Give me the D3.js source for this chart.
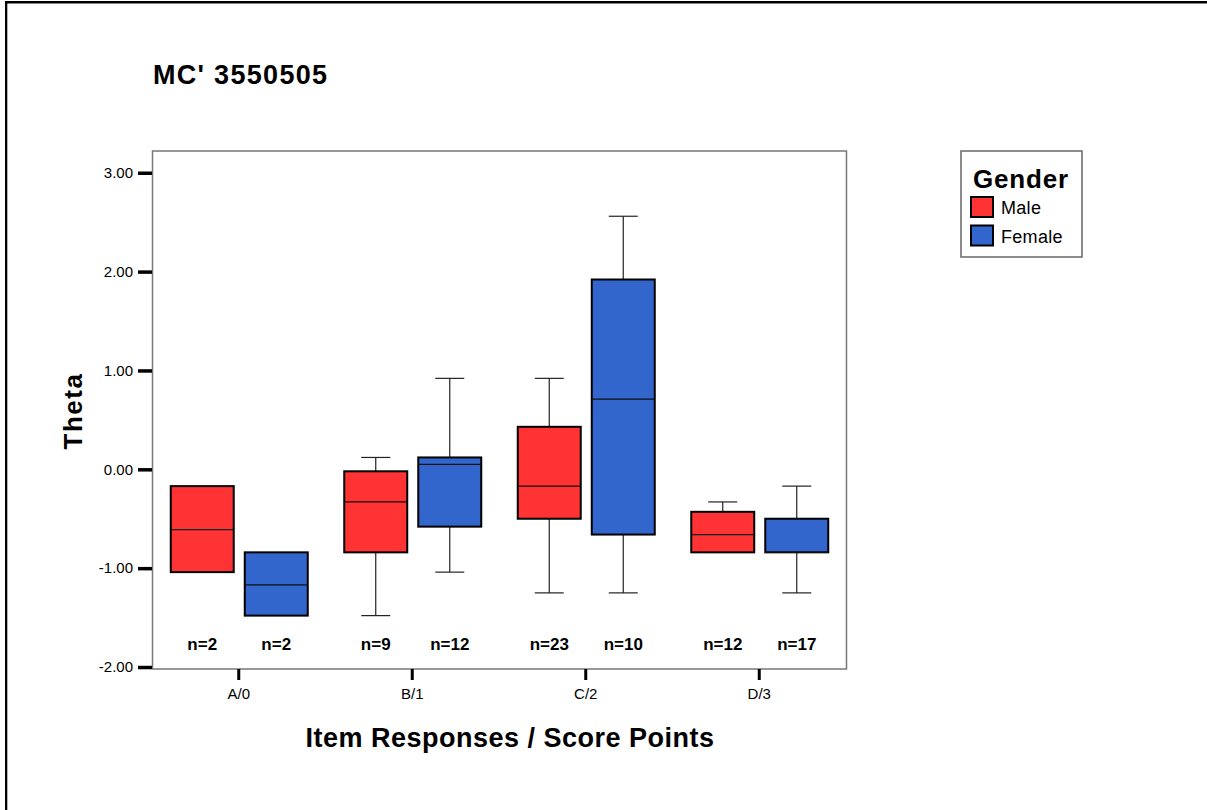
<!DOCTYPE html>
<html>
<head>
<meta charset="utf-8">
<script src="https://cdn.jsdelivr.net/npm/d3@7"></script>
<style>
  body { margin: 0; background: #fff; }
  text { font-family: "Liberation Sans", Arial, sans-serif; }
</style>
</head>
<body>
<svg id="chart"></svg>
<script>
// categories and groups
var categories = ["A/0", "B/1", "C/2", "D/3"];
var genders = ["Male", "Female"];
var yTicks = [-2, -1, 0, 1, 2, 3];

// box stats (Theta)
var maleMin    = [-1.04, -1.48, -1.25, -0.84];
var maleQ1     = [-1.04, -0.84, -0.50, -0.84];
var maleMedian = [-0.61, -0.33, -0.17, -0.66];
var maleQ3     = [-0.17, -0.02,  0.43, -0.43];
var maleMax    = [-0.17,  0.12,  0.92, -0.33];
var maleN      = [2, 9, 23, 12];

var femaleMin    = [-1.48, -1.04, -1.25, -1.25];
var femaleQ1     = [-1.48, -0.58, -0.66, -0.84];
var femaleMedian = [-1.17,  0.05,  0.71, -0.84];
var femaleQ3     = [-0.84,  0.12,  1.92, -0.50];
var femaleMax    = [-0.84,  0.92,  2.56, -0.17];
var femaleN      = [2, 12, 10, 17];

var colors = ["#ff3333", "#3366cc"];

var dim = { width: 1207, height: 810 };
var plot = { left: 152, right: 846, top: 151, bottom: 669 };

// build rows for d3
var data = [];
categories.forEach(function(c, i) {
    data.push({cat: c, gender: "Male", min: maleMin[i], q1: maleQ1[i], med: maleMedian[i], q3: maleQ3[i], max: maleMax[i], n: maleN[i]});
    data.push({cat: c, gender: "Female", min: femaleMin[i], q1: femaleQ1[i], med: femaleMedian[i], q3: femaleQ3[i], max: femaleMax[i], n: femaleN[i]});
});

var svg = d3.select("#chart")
    .attr("width", dim.width)
    .attr("height", dim.height);

// outer frame (top and left edges only)
svg.append("rect").attr("x", 5).attr("y", 1).attr("width", dim.width - 5).attr("height", 2.5).attr("fill", "#000");
svg.append("rect").attr("x", 5).attr("y", 1).attr("width", 2.3).attr("height", dim.height).attr("fill", "#000");

var yScale = d3.scaleLinear()
    .domain([-2.02, 3.22])
    .range([plot.bottom, plot.top]);

var xScale = d3.scaleBand()
    .domain(categories)
    .range([plot.left, plot.right]);

var gScale = d3.scaleBand()
    .domain(genders)
    .range([-68, 69])
    .paddingInner(0.149);

var colorScale = d3.scaleOrdinal()
    .domain(genders)
    .range(colors);

var bw = gScale.bandwidth();
var cx = d => xScale(d.cat) + xScale.bandwidth() / 2 + gScale(d.gender) + bw / 2;

// plot border
svg.append("rect")
    .attr("x", plot.left + 0.5)
    .attr("y", plot.top)
    .attr("width", plot.right - plot.left)
    .attr("height", plot.bottom - plot.top)
    .attr("fill", "none")
    .attr("stroke", "#777")
    .attr("stroke-width", 1.5);

// y axis
var yAxis = svg.append("g")
    .attr("transform", "translate(" + plot.left + ",0)")
    .call(d3.axisLeft(yScale).tickValues(yTicks).tickSize(14).tickPadding(5).tickFormat(d => d.toFixed(2)));
yAxis.select(".domain").remove();
yAxis.selectAll(".tick line").attr("stroke", "#000").attr("stroke-width", 3.5);
yAxis.selectAll(".tick text").attr("font-size", 15).attr("fill", "#000")
    .style("font-family", "'Liberation Sans', Arial, sans-serif");

// x axis
var xAxis = svg.append("g")
    .attr("transform", "translate(0," + plot.bottom + ")")
    .call(d3.axisBottom(xScale).tickSize(11).tickPadding(8));
xAxis.select(".domain").remove();
xAxis.selectAll(".tick line").attr("stroke", "#000").attr("stroke-width", 3);
xAxis.selectAll(".tick text").attr("font-size", 15).attr("fill", "#000")
    .style("font-family", "'Liberation Sans', Arial, sans-serif");

// whiskers
var boxes = svg.append("g").selectAll("g.box")
    .data(data).enter()
    .append("g").attr("class", "box");

boxes.filter(d => d.max > d.q3).append("line")
    .attr("x1", cx).attr("x2", cx)
    .attr("y1", d => yScale(d.q3)).attr("y2", d => yScale(d.max))
    .attr("stroke", "#222").attr("stroke-width", 1.2);
boxes.filter(d => d.max > d.q3).append("line")
    .attr("x1", d => cx(d) - 14.5).attr("x2", d => cx(d) + 14.5)
    .attr("y1", d => yScale(d.max)).attr("y2", d => yScale(d.max))
    .attr("stroke", "#222").attr("stroke-width", 1.2);
boxes.filter(d => d.min < d.q1).append("line")
    .attr("x1", cx).attr("x2", cx)
    .attr("y1", d => yScale(d.q1)).attr("y2", d => yScale(d.min))
    .attr("stroke", "#222").attr("stroke-width", 1.2);
boxes.filter(d => d.min < d.q1).append("line")
    .attr("x1", d => cx(d) - 14.5).attr("x2", d => cx(d) + 14.5)
    .attr("y1", d => yScale(d.min)).attr("y2", d => yScale(d.min))
    .attr("stroke", "#222").attr("stroke-width", 1.2);

// boxes
boxes.append("rect")
    .attr("x", d => cx(d) - bw / 2)
    .attr("y", d => yScale(d.q3))
    .attr("width", bw)
    .attr("height", d => yScale(d.q1) - yScale(d.q3))
    .attr("fill", d => colorScale(d.gender))
    .attr("stroke", "#000")
    .attr("stroke-width", 2);

// medians
boxes.append("line")
    .attr("x1", d => cx(d) - bw / 2).attr("x2", d => cx(d) + bw / 2)
    .attr("y1", d => yScale(d.med)).attr("y2", d => yScale(d.med))
    .attr("stroke", "#111").attr("stroke-width", 1.3);

// n labels
svg.append("g").selectAll("text")
    .data(data).enter()
    .append("text")
    .attr("x", cx)
    .attr("y", 650)
    .attr("text-anchor", "middle")
    .attr("font-size", 17)
    .attr("font-weight", "bold")
    .text(d => "n=" + d.n);

// title
svg.append("text")
    .attr("x", 153).attr("y", 84)
    .attr("font-size", 27).attr("font-weight", "bold")
    .attr("letter-spacing", 1.3)
    .text("MC' 3550505");

// axis titles
svg.append("text")
    .attr("x", 510).attr("y", 747)
    .attr("text-anchor", "middle")
    .attr("font-size", 27).attr("font-weight", "bold")
    .attr("letter-spacing", 0.5)
    .text("Item Responses / Score Points");

svg.append("text")
    .attr("transform", "translate(82,411) rotate(-90)")
    .attr("text-anchor", "middle")
    .attr("font-size", 26).attr("font-weight", "bold")
    .attr("letter-spacing", 1.5)
    .text("Theta");

// legend
var legend = svg.append("g").attr("transform", "translate(961,151)");
legend.append("rect")
    .attr("x", 0).attr("y", 0).attr("width", 121).attr("height", 106)
    .attr("fill", "#fff").attr("stroke", "#666").attr("stroke-width", 1.5);
legend.append("text")
    .attr("x", 12).attr("y", 37)
    .attr("font-size", 26).attr("font-weight", "bold")
    .attr("letter-spacing", 0.8)
    .text("Gender");
var items = legend.selectAll("g.item")
    .data(genders).enter()
    .append("g").attr("class", "item")
    .attr("transform", (d, i) => "translate(10," + (46 + i * 28.5) + ")");
items.append("rect")
    .attr("width", 22).attr("height", 20)
    .attr("fill", d => colorScale(d))
    .attr("stroke", "#000").attr("stroke-width", 2);
items.append("text")
    .attr("x", 30).attr("y", 17)
    .attr("font-size", 18)
    .attr("letter-spacing", 0.3)
    .text(d => d);
</script>
</body>
</html>
